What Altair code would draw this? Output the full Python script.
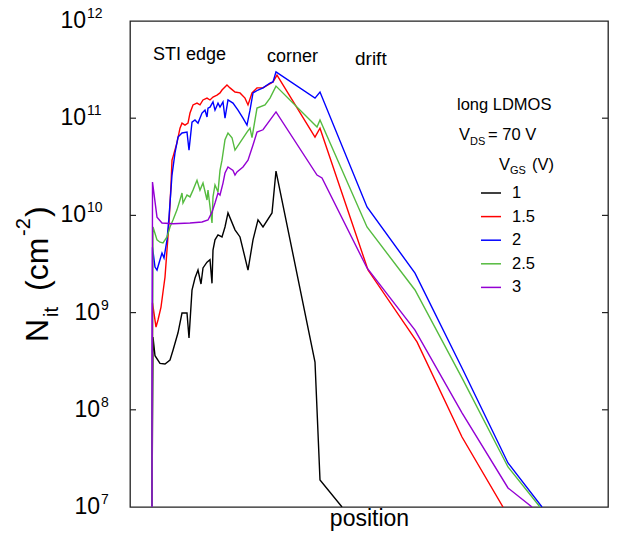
import altair as alt
import pandas as pd

# ---------------- data ----------------
series_names = ["1", "1.5", "2", "2.5", "3"]
series_colors = ["#000000", "#ff0000", "#0000ff", "#55bb3f", "#9400d3"]

pos_1 = [22, 23, 25, 30, 35, 40, 43, 48, 52, 57, 59, 62, 65, 68, 71, 73, 77, 80, 82, 83,
         85, 88, 92, 95, 98, 105, 110, 118, 123, 128, 133, 142, 146, 185, 190, 212]
nit_1 = [1e7, 5.6e8, 3.6e8, 3.0e8, 2.96e8, 3.25e8, 4.1e8, 6.2e8, 9.9e8, 9.9e8, 5.5e8, 1.7e9,
         2.27e9, 2.74e9, 1.97e9, 2.88e9, 3.3e9, 3.5e9, 2.0e9, 4.4e9, 5.6e9, 6.3e9, 6.0e9,
         7.6e9, 1.06e10, 7.1e9, 6.0e9, 2.74e9, 5.6e9, 9.0e9, 7.6e9, 1.06e10, 2.86e10, 3.1e8,
         1.9e7, 1e7]

pos_15 = [22, 22.5, 26, 28, 31, 33, 35, 37, 39, 41, 42, 43, 47, 50, 52, 55, 58, 60, 63, 67,
          70, 73, 77, 80, 83, 87, 90, 92, 97, 100, 105, 110, 115, 118, 122, 127, 133, 138,
          143, 147, 185, 190, 238, 287, 332, 373]
nit_15 = [1e7, 1.26e9, 7.1e8, 8.4e8, 1.14e9, 1.63e9, 2.32e9, 4.4e9, 8.36e9, 2.06e10, 3.7e10,
          4.0e10, 5.6e10, 7.9e10, 8.9e10, 8.5e10, 8.9e10, 1.13e11, 1.37e11, 1.43e11, 1.37e11,
          1.54e11, 1.61e11, 1.54e11, 1.65e11, 1.73e11, 1.82e11, 1.95e11, 2.20e11, 2.05e11,
          1.86e11, 1.82e11, 1.61e11, 1.37e11, 1.82e11, 2.05e11, 2.05e11, 2.20e11, 2.36e11,
          2.78e11, 6.4e10, 7.9e10, 2.74e9, 5.0e8, 5.25e7, 1e7]

pos_2 = [22, 22.5, 25, 27, 30, 32, 34, 37, 39, 42, 45, 48, 52, 57, 59, 62, 65, 68, 72, 75,
         77, 78, 80, 83, 85, 88, 90, 93, 95, 98, 103, 108, 113, 117, 120, 123, 128, 133, 140,
         143, 146, 185, 190, 237, 285, 333, 378, 412]
nit_2 = [1e7, 4.7e9, 2.94e9, 2.74e9, 3.5e9, 4.1e9, 3.65e9, 5.6e9, 9.6e9, 2.6e10, 4.4e10,
         6.4e10, 7.05e10, 7.2e10, 4.7e10, 9.1e10, 9.6e10, 8.9e10, 1.13e11, 1.21e11, 1.03e11,
         1.27e11, 1.30e11, 1.47e11, 1.21e11, 1.43e11, 1.30e11, 1.47e11, 1.0e11, 1.54e11,
         1.43e11, 1.21e11, 1.0e11, 8.5e10, 1.21e11, 1.82e11, 1.95e11, 2.05e11, 2.30e11,
         2.36e11, 3.0e11, 1.61e11, 1.86e11, 1.22e10, 2.55e9, 2.57e8, 2.84e7, 1e7]

pos_25 = [22, 23, 27, 30, 33, 37, 40, 43, 47, 50, 52, 53, 57, 60, 63, 67, 70, 73, 77, 78,
          82, 83, 85, 88, 90, 92, 95, 98, 102, 105, 110, 117, 120, 122, 127, 135, 140, 146,
          187, 190, 237, 285, 333, 378, 410]
nit_25 = [1e7, 7.6e9, 5.6e9, 5.3e9, 5.2e9, 6.0e9, 7.6e9, 8.97e9, 1.14e10, 1.44e10, 1.70e10,
          1.34e10, 1.62e10, 1.55e10, 1.82e10, 2.3e10, 1.82e10, 2.15e10, 1.44e10, 1.82e10,
          8.36e9, 1.55e10, 2.06e10, 1.74e10, 2.9e10, 3.7e10, 6.0e10, 7.05e10, 6.3e10, 4.7e10,
          5.6e10, 7.2e10, 7.9e10, 6.3e10, 1.27e11, 1.37e11, 1.61e11, 2.14e11, 8.1e10, 9.6e10,
          7.6e9, 1.71e9, 2.03e8, 2.58e7, 1e7]

pos_3 = [22, 22.5, 27, 32, 43, 60, 72, 78, 82, 85, 88, 90, 93, 95, 98, 103, 105, 107, 113,
         118, 123, 127, 133, 146, 187, 192, 237, 285, 332, 378, 402]
nit_3 = [1e7, 2.2e10, 9.6e9, 8.36e9, 8.2e9, 8.36e9, 8.55e9, 8.97e9, 1.08e10, 1.34e10, 1.70e10,
         1.62e10, 2.15e10, 2.73e10, 3.15e10, 2.9e10, 2.6e10, 2.8e10, 3.15e10, 3.7e10, 5.3e10,
         7.2e10, 7.6e10, 1.16e11, 2.6e10, 2.43e10, 2.88e9, 6.6e8, 9.3e7, 1.57e7, 1e7]

tick_values = [1e7, 1e8, 1e9, 1e10, 1e11, 1e12]
tick_exponents = ["7", "8", "9", "10", "11", "12"]
inner_ticks = [1e8, 1e9, 1e10, 1e11]

# ---------------- build tables ----------------
frames = []
for name, xs, ys in zip(series_names,
                        [pos_1, pos_15, pos_2, pos_25, pos_3],
                        [nit_1, nit_15, nit_2, nit_25, nit_3]):
    frames.append(pd.DataFrame({"position": xs, "nit": ys, "vgs": name}))
df = pd.concat(frames, ignore_index=True)

ticks_df = pd.DataFrame({"v": tick_values, "base": "10", "exp": tick_exponents})
ticks_1 = ticks_df[ticks_df["exp"].str.len() == 1]
ticks_2 = ticks_df[ticks_df["exp"].str.len() == 2]

FONT = "Liberation Sans"
W, H = 478, 486

y_scale = alt.Scale(type="log", domain=[1e7, 1e12], nice=False)

lines = alt.Chart(df).mark_line(strokeWidth=1.4, clip=True).encode(
    x=alt.X("position:Q", scale=alt.Scale(domain=[0, W], nice=False),
            axis=alt.Axis(labels=False, ticks=False, domain=False, grid=False,
                          title="position", titleFont=FONT, titleFontSize=23,
                          titleFontWeight="normal", titleColor="black", titlePadding=0)),
    y=alt.Y("nit:Q", scale=y_scale, axis=None),
    color=alt.Color("vgs:N", scale=alt.Scale(domain=series_names, range=series_colors),
                    legend=alt.Legend(title=None, orient="none", legendX=350, legendY=161,
                                      symbolType="stroke", symbolSize=400,
                                      symbolStrokeWidth=1.5, labelFont=FONT,
                                      labelFontSize=16.5, labelColor="black",
                                      labelOffset=10, rowPadding=3.6, padding=0)),
    order=alt.Order("position:Q"),
)

tick_src = pd.DataFrame({"v": inner_ticks})
left_ticks = alt.Chart(tick_src).mark_rule(color="#222", strokeWidth=1.2).encode(
    y=alt.Y("v:Q", scale=y_scale, axis=None), x=alt.value(0), x2=alt.value(6))
right_ticks = alt.Chart(tick_src).mark_rule(color="#222", strokeWidth=1.2).encode(
    y=alt.Y("v:Q", scale=y_scale, axis=None), x=alt.value(W - 6), x2=alt.value(W))


def tick_labels(src, x_base):
    base = alt.Chart(src).mark_text(font=FONT, fontSize=23, color="black", align="right",
                                    baseline="middle").encode(
        y=alt.Y("v:Q", scale=y_scale, axis=None), x=alt.value(x_base), text="base:N")
    exp = alt.Chart(src).mark_text(font=FONT, fontSize=14, color="black", align="left",
                                   baseline="alphabetic", dy=-3).encode(
        y=alt.Y("v:Q", scale=y_scale, axis=None), x=alt.value(x_base + 1), text="exp:N")
    return [base, exp]


def txt(text, x, y, size, angle=0):
    kw = dict(font=FONT, fontSize=size, color="black", align="left", baseline="alphabetic")
    if angle:
        kw["angle"] = angle
    return alt.Chart(pd.DataFrame({"t": [text]})).mark_text(**kw).encode(
        text="t:N", x=alt.value(x), y=alt.value(y))


texts = [
    # y-axis title (rotated): N_it (cm^-2)
    txt("N", -82, 321, 32, 270),
    txt("it", -72, 296, 20, 270),
    txt("(cm", -82, 270, 32, 270),
    txt("-2", -100, 215, 20, 270),
    txt(")", -82, 196, 32, 270),
    # region annotations
    txt("STI edge", 23, 39, 18),
    txt("corner", 137, 41, 18),
    txt("drift", 225, 44, 19),
    # legend header
    txt("long LDMOS", 327, 89, 16.5),
    txt("V", 329, 119, 16.5),
    txt("DS", 340, 124, 11),
    txt("= 70 V", 358, 119, 16.5),
    txt("V", 369, 149, 16.5),
    txt("GS", 380, 153, 11),
    txt("(V)", 402, 149, 16.5),
]

chart = alt.layer(lines, left_ticks, right_ticks,
                  *tick_labels(ticks_1, -30), *tick_labels(ticks_2, -44),
                  *texts).properties(
    width=W, height=H,
    autosize=alt.AutoSizeParams(type="none"),
    padding={"left": 130, "top": 21, "right": 15, "bottom": 31},
    background="white",
).configure_view(stroke="#222", strokeWidth=1.3)

chart.save("out.html", embed_options={"renderer": "svg", "actions": False})
